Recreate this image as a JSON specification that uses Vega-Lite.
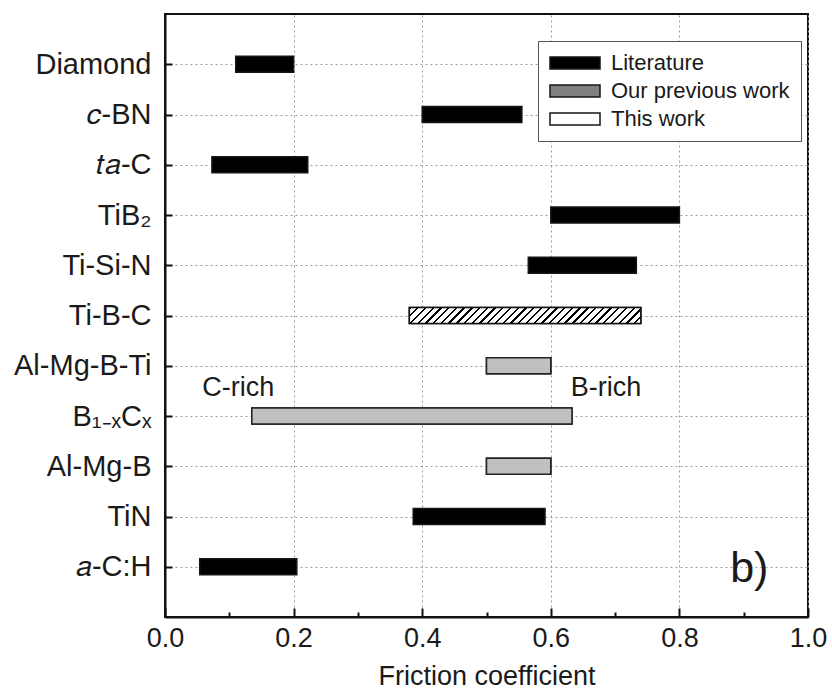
{
  "$schema": "https://vega.github.io/schema/vega-lite/v6.json",
  "width": 643,
  "height": 603,
  "autosize": "none",
  "padding": {"left": 165, "top": 14, "right": 24, "bottom": 76},
  "background": "white",
  "config": {
    "font": "Liberation Sans",
    "view": {"stroke": "#111111", "strokeWidth": 2},
    "axis": {
      "domainColor": "#111111",
      "domainWidth": 2,
      "tickColor": "#111111",
      "tickWidth": 2,
      "gridColor": "#9a9a9a",
      "gridDash": [2, 3],
      "gridWidth": 1,
      "labelColor": "#1a1a1a",
      "titleColor": "#1a1a1a",
      "labelFont": "Liberation Sans",
      "titleFont": "Liberation Sans"
    }
  },
  "datasets": {
    "ranges": [
      {"material": "Diamond", "low": 0.11, "high": 0.20, "group": "Literature"},
      {"material": "𝑐-BN", "low": 0.40, "high": 0.555, "group": "Literature"},
      {"material": "𝑡𝑎-C", "low": 0.073, "high": 0.222, "group": "Literature"},
      {"material": "TiB₂", "low": 0.60, "high": 0.80, "group": "Literature"},
      {"material": "Ti-Si-N", "low": 0.565, "high": 0.733, "group": "Literature"},
      {"material": "Ti-B-C", "low": 0.38, "high": 0.74, "group": "This work"},
      {"material": "Al-Mg-B-Ti", "low": 0.50, "high": 0.60, "group": "Our previous work"},
      {"material": "B₁₋ₓCₓ", "low": 0.135, "high": 0.633, "group": "Our previous work"},
      {"material": "Al-Mg-B", "low": 0.50, "high": 0.60, "group": "Our previous work"},
      {"material": "TiN", "low": 0.386, "high": 0.591, "group": "Literature"},
      {"material": "𝑎-C:H", "low": 0.054, "high": 0.205, "group": "Literature"}
    ],
    "notes": [
      {"text": "C-rich", "x": 0.058, "material": "B₁₋ₓCₓ"},
      {"text": "B-rich", "x": 0.631, "material": "B₁₋ₓCₓ"}
    ],
    "panel": [
      {"text": "b)", "x": 0.879, "material": "𝑎-C:H"}
    ]
  },
  "layer": [
    {
      "data": {"name": "ranges"},
      "mark": {"type": "bar", "size": 16, "stroke": "#161616", "strokeWidth": 1.5},
      "encoding": {
        "y": {
          "field": "material",
          "type": "nominal",
          "sort": ["Diamond", "𝑐-BN", "𝑡𝑎-C", "TiB₂", "Ti-Si-N", "Ti-B-C", "Al-Mg-B-Ti", "B₁₋ₓCₓ", "Al-Mg-B", "TiN", "𝑎-C:H"],
          "scale": {"type": "point", "padding": 1},
          "axis": {
            "title": null,
            "grid": true,
            "tickSize": -7,
            "labelPadding": 21,
            "labelFontSize": 29
          }
        },
        "x": {
          "field": "low",
          "type": "quantitative",
          "scale": {"domain": [0, 1], "nice": false},
          "axis": {
            "values": [0, 0.1, 0.2, 0.3, 0.4, 0.5, 0.6, 0.7, 0.8, 0.9, 1.0],
            "labelExpr": "round(datum.value * 10) % 2 === 0 ? format(datum.value, '.1f') : ''",
            "tickSize": {"condition": {"test": "round(datum.value * 10) % 2 === 1", "value": -5}, "value": -9},
            "gridOpacity": {"condition": {"test": "round(datum.value * 10) % 2 === 1", "value": 0}, "value": 1},
            "grid": true,
            "labelFontSize": 27,
            "labelPadding": 17,
            "labelFlush": false,
            "title": "Friction coefficient",
            "titleFontSize": 27,
            "titleFontWeight": "normal",
            "titlePadding": 12
          }
        },
        "x2": {"field": "high"},
        "color": {
          "field": "group",
          "type": "nominal",
          "scale": {
            "domain": ["Literature", "Our previous work", "This work"],
            "range": ["#000000", "#808080", "#ffffff"]
          },
          "legend": {
            "title": null,
            "orient": "none",
            "legendX": 373,
            "legendY": 27,
            "padding": 11,
            "fillColor": "#ffffff",
            "strokeColor": "#555555",
            "cornerRadius": 0,
            "symbolType": "M-4.1667,-1H4.1667V1H-4.1667Z",
            "symbolSize": 144,
            "symbolOffset": 15,
            "symbolOpacity": 1,
            "labelFontSize": 22,
            "labelFont": "Liberation Sans",
            "labelColor": "#1a1a1a",
            "labelOffset": 25,
            "labelLimit": 400,
            "rowPadding": 6,
            "encode": {
              "symbols": {
                "stroke": {"value": "#111111"},
                "strokeWidth": {"value": 1.5}
              }
            }
          }
        }
      }
    },
    {
      "data": {"name": "ranges"},
      "transform": [{"filter": "datum.group === 'Our previous work'"}],
      "mark": {"type": "bar", "size": 16, "stroke": "#222222", "strokeWidth": 1.5, "fill": "#c0c0c0"},
      "encoding": {
        "y": {"field": "material", "type": "nominal", "sort": ["Diamond", "𝑐-BN", "𝑡𝑎-C", "TiB₂", "Ti-Si-N", "Ti-B-C", "Al-Mg-B-Ti", "B₁₋ₓCₓ", "Al-Mg-B", "TiN", "𝑎-C:H"]},
        "x": {"field": "low", "type": "quantitative"},
        "x2": {"field": "high"}
      }
    },
    {
      "data": {"name": "ranges"},
      "transform": [{"filter": "datum.group === 'This work'"}],
      "mark": {
        "type": "bar",
        "size": 16,
        "stroke": "#111111",
        "strokeWidth": 1.5,
        "fill": {
          "gradient": "linear",
          "x1": 0, "y1": 0, "x2": 1.064, "y2": 0.0735,
          "stops": [
            {"offset": 0, "color": "#000000"}, {"offset": 0.0094, "color": "#000000"}, {"offset": 0.0094, "color": "#ffffff"}, {"offset": 0.0313, "color": "#ffffff"},
            {"offset": 0.0313, "color": "#000000"}, {"offset": 0.0406, "color": "#000000"}, {"offset": 0.0406, "color": "#ffffff"}, {"offset": 0.0625, "color": "#ffffff"},
            {"offset": 0.0625, "color": "#000000"}, {"offset": 0.0719, "color": "#000000"}, {"offset": 0.0719, "color": "#ffffff"}, {"offset": 0.0938, "color": "#ffffff"},
            {"offset": 0.0938, "color": "#000000"}, {"offset": 0.1031, "color": "#000000"}, {"offset": 0.1031, "color": "#ffffff"}, {"offset": 0.125, "color": "#ffffff"},
            {"offset": 0.125, "color": "#000000"}, {"offset": 0.1344, "color": "#000000"}, {"offset": 0.1344, "color": "#ffffff"}, {"offset": 0.1563, "color": "#ffffff"},
            {"offset": 0.1563, "color": "#000000"}, {"offset": 0.1656, "color": "#000000"}, {"offset": 0.1656, "color": "#ffffff"}, {"offset": 0.1875, "color": "#ffffff"},
            {"offset": 0.1875, "color": "#000000"}, {"offset": 0.1969, "color": "#000000"}, {"offset": 0.1969, "color": "#ffffff"}, {"offset": 0.2188, "color": "#ffffff"},
            {"offset": 0.2188, "color": "#000000"}, {"offset": 0.2281, "color": "#000000"}, {"offset": 0.2281, "color": "#ffffff"}, {"offset": 0.25, "color": "#ffffff"},
            {"offset": 0.25, "color": "#000000"}, {"offset": 0.2594, "color": "#000000"}, {"offset": 0.2594, "color": "#ffffff"}, {"offset": 0.2813, "color": "#ffffff"},
            {"offset": 0.2813, "color": "#000000"}, {"offset": 0.2906, "color": "#000000"}, {"offset": 0.2906, "color": "#ffffff"}, {"offset": 0.3125, "color": "#ffffff"},
            {"offset": 0.3125, "color": "#000000"}, {"offset": 0.3219, "color": "#000000"}, {"offset": 0.3219, "color": "#ffffff"}, {"offset": 0.3438, "color": "#ffffff"},
            {"offset": 0.3438, "color": "#000000"}, {"offset": 0.3531, "color": "#000000"}, {"offset": 0.3531, "color": "#ffffff"}, {"offset": 0.375, "color": "#ffffff"},
            {"offset": 0.375, "color": "#000000"}, {"offset": 0.3844, "color": "#000000"}, {"offset": 0.3844, "color": "#ffffff"}, {"offset": 0.4063, "color": "#ffffff"},
            {"offset": 0.4063, "color": "#000000"}, {"offset": 0.4156, "color": "#000000"}, {"offset": 0.4156, "color": "#ffffff"}, {"offset": 0.4375, "color": "#ffffff"},
            {"offset": 0.4375, "color": "#000000"}, {"offset": 0.4469, "color": "#000000"}, {"offset": 0.4469, "color": "#ffffff"}, {"offset": 0.4688, "color": "#ffffff"},
            {"offset": 0.4688, "color": "#000000"}, {"offset": 0.4781, "color": "#000000"}, {"offset": 0.4781, "color": "#ffffff"}, {"offset": 0.5, "color": "#ffffff"},
            {"offset": 0.5, "color": "#000000"}, {"offset": 0.5094, "color": "#000000"}, {"offset": 0.5094, "color": "#ffffff"}, {"offset": 0.5313, "color": "#ffffff"},
            {"offset": 0.5313, "color": "#000000"}, {"offset": 0.5406, "color": "#000000"}, {"offset": 0.5406, "color": "#ffffff"}, {"offset": 0.5625, "color": "#ffffff"},
            {"offset": 0.5625, "color": "#000000"}, {"offset": 0.5719, "color": "#000000"}, {"offset": 0.5719, "color": "#ffffff"}, {"offset": 0.5938, "color": "#ffffff"},
            {"offset": 0.5938, "color": "#000000"}, {"offset": 0.6031, "color": "#000000"}, {"offset": 0.6031, "color": "#ffffff"}, {"offset": 0.625, "color": "#ffffff"},
            {"offset": 0.625, "color": "#000000"}, {"offset": 0.6344, "color": "#000000"}, {"offset": 0.6344, "color": "#ffffff"}, {"offset": 0.6563, "color": "#ffffff"},
            {"offset": 0.6563, "color": "#000000"}, {"offset": 0.6656, "color": "#000000"}, {"offset": 0.6656, "color": "#ffffff"}, {"offset": 0.6875, "color": "#ffffff"},
            {"offset": 0.6875, "color": "#000000"}, {"offset": 0.6969, "color": "#000000"}, {"offset": 0.6969, "color": "#ffffff"}, {"offset": 0.7188, "color": "#ffffff"},
            {"offset": 0.7188, "color": "#000000"}, {"offset": 0.7281, "color": "#000000"}, {"offset": 0.7281, "color": "#ffffff"}, {"offset": 0.75, "color": "#ffffff"},
            {"offset": 0.75, "color": "#000000"}, {"offset": 0.7594, "color": "#000000"}, {"offset": 0.7594, "color": "#ffffff"}, {"offset": 0.7813, "color": "#ffffff"},
            {"offset": 0.7813, "color": "#000000"}, {"offset": 0.7906, "color": "#000000"}, {"offset": 0.7906, "color": "#ffffff"}, {"offset": 0.8125, "color": "#ffffff"},
            {"offset": 0.8125, "color": "#000000"}, {"offset": 0.8219, "color": "#000000"}, {"offset": 0.8219, "color": "#ffffff"}, {"offset": 0.8438, "color": "#ffffff"},
            {"offset": 0.8438, "color": "#000000"}, {"offset": 0.8531, "color": "#000000"}, {"offset": 0.8531, "color": "#ffffff"}, {"offset": 0.875, "color": "#ffffff"},
            {"offset": 0.875, "color": "#000000"}, {"offset": 0.8844, "color": "#000000"}, {"offset": 0.8844, "color": "#ffffff"}, {"offset": 0.9063, "color": "#ffffff"},
            {"offset": 0.9063, "color": "#000000"}, {"offset": 0.9156, "color": "#000000"}, {"offset": 0.9156, "color": "#ffffff"}, {"offset": 0.9375, "color": "#ffffff"},
            {"offset": 0.9375, "color": "#000000"}, {"offset": 0.9469, "color": "#000000"}, {"offset": 0.9469, "color": "#ffffff"}, {"offset": 0.9688, "color": "#ffffff"},
            {"offset": 0.9688, "color": "#000000"}, {"offset": 0.9781, "color": "#000000"}, {"offset": 0.9781, "color": "#ffffff"}, {"offset": 1, "color": "#ffffff"}
          ]
        }
      },
      "encoding": {
        "y": {"field": "material", "type": "nominal", "sort": ["Diamond", "𝑐-BN", "𝑡𝑎-C", "TiB₂", "Ti-Si-N", "Ti-B-C", "Al-Mg-B-Ti", "B₁₋ₓCₓ", "Al-Mg-B", "TiN", "𝑎-C:H"]},
        "x": {"field": "low", "type": "quantitative"},
        "x2": {"field": "high"}
      }
    },
    {
      "data": {"name": "notes"},
      "mark": {"type": "text", "align": "left", "baseline": "middle", "dy": -28, "fontSize": 27, "font": "Liberation Sans", "color": "#1a1a1a"},
      "encoding": {
        "y": {"field": "material", "type": "nominal", "sort": ["Diamond", "𝑐-BN", "𝑡𝑎-C", "TiB₂", "Ti-Si-N", "Ti-B-C", "Al-Mg-B-Ti", "B₁₋ₓCₓ", "Al-Mg-B", "TiN", "𝑎-C:H"]},
        "x": {"field": "x", "type": "quantitative"},
        "text": {"field": "text"}
      }
    },
    {
      "data": {"name": "panel"},
      "mark": {"type": "text", "align": "left", "baseline": "middle", "dy": 2, "fontSize": 43, "font": "Liberation Sans", "color": "#1a1a1a"},
      "encoding": {
        "y": {"field": "material", "type": "nominal", "sort": ["Diamond", "𝑐-BN", "𝑡𝑎-C", "TiB₂", "Ti-Si-N", "Ti-B-C", "Al-Mg-B-Ti", "B₁₋ₓCₓ", "Al-Mg-B", "TiN", "𝑎-C:H"]},
        "x": {"field": "x", "type": "quantitative"},
        "text": {"field": "text"}
      }
    }
  ]
}
